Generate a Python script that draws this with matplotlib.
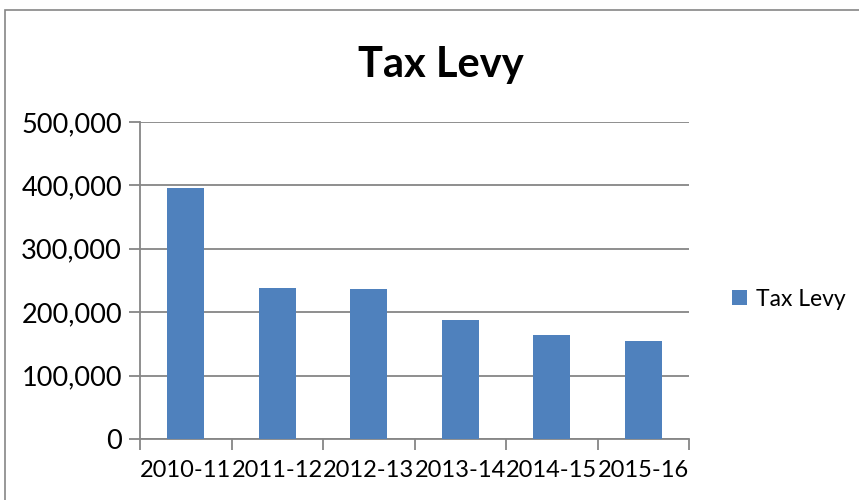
import matplotlib.pyplot as plt
import numpy as np
from matplotlib.patches import Rectangle

years = ["2010-11", "2011-12", "2012-13", "2013-14", "2014-15", "2015-16"]
tax_levy = [396000, 238000, 237000, 188000, 164000, 154000]
y_ticks = [0, 100000, 200000, 300000, 400000, 500000]

plt.rcParams['font.family'] = ['Lato', 'DejaVu Sans']

fig = plt.figure(figsize=(8.59, 5), dpi=100)
ax = fig.add_axes([140/859, 61/500, 549/859, 317/500])

grey = "#868686"
x = np.arange(len(years))
ax.bar(x, tax_levy, width=0.4, color="#4F81BD", label="Tax Levy", zorder=3)

ax.set_xlim(-0.5, len(years) - 0.5)
ax.set_ylim(0, 500000)
ax.set_yticks(y_ticks)
ax.set_yticklabels([f"{v:,}" for v in y_ticks], fontsize=19.5)
ax.yaxis.grid(True, color=grey, linewidth=1.3, zorder=0)

# category boundaries get the tick marks, labels sit in the middle
ax.set_xticks(np.arange(len(years) + 1) - 0.5)
ax.set_xticklabels([])
ax.set_xticks(x, minor=True)
ax.set_xticklabels(years, minor=True, fontsize=17)
ax.tick_params(axis="x", which="major", direction="out", length=8, color=grey, width=1.3)
ax.tick_params(axis="x", which="minor", length=0, pad=15)
ax.tick_params(axis="y", direction="out", length=8, color=grey, width=1.3, pad=5)

for side in ["top", "right"]:
    ax.spines[side].set_visible(False)
for side in ["left", "bottom"]:
    ax.spines[side].set_color(grey)
    ax.spines[side].set_linewidth(1.3)

fig.text(441/859, 1 - 65/500, "Tax Levy", ha="center", va="center",
         fontsize=30, fontweight="bold")

ax.legend(loc="center left", bbox_to_anchor=(732/859, 1 - 299/500),
          bbox_transform=fig.transFigure, frameon=False, fontsize=16.5,
          borderpad=0, borderaxespad=0,
          handlelength=0.65, handleheight=0.65, handletextpad=0.4)

# chart border
fig.patches.append(Rectangle((5/859, -0.1), 1.2, 0.1 + 490/500, transform=fig.transFigure,
                             fill=False, edgecolor=grey, linewidth=1.2))

fig.savefig("out.png", dpi=100)
